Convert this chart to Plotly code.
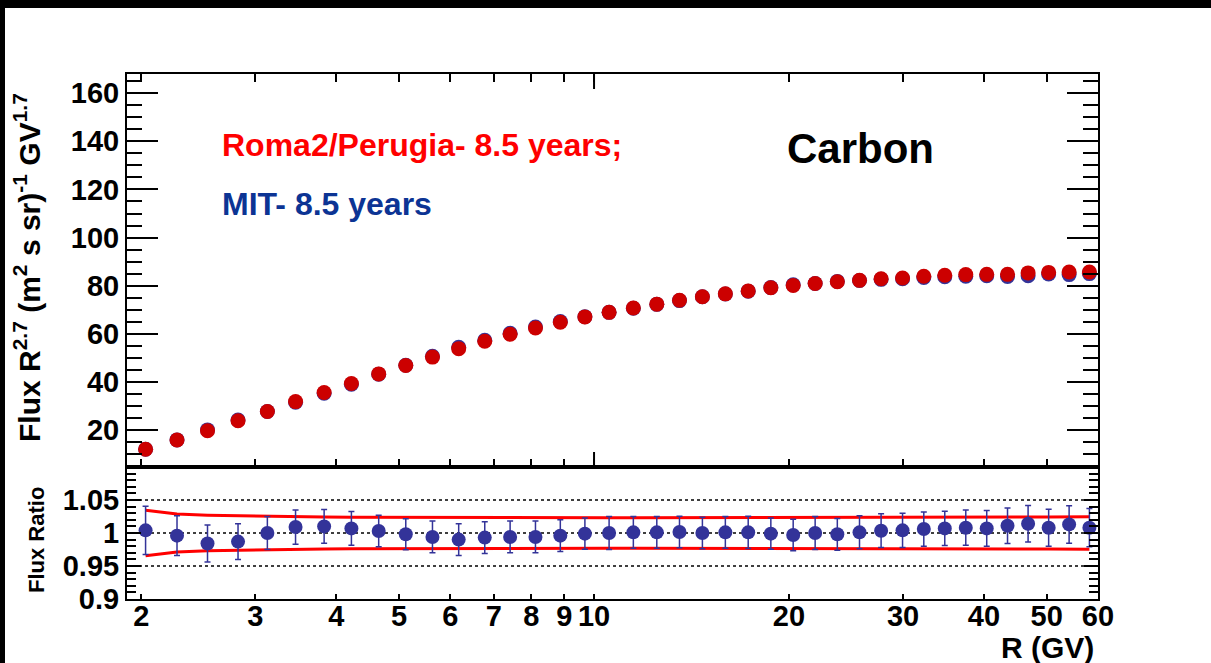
import plotly.graph_objects as go

# Rigidity bin centres (GV)
rigidity = [2.03, 2.27, 2.53, 2.82, 3.13, 3.46, 3.83, 4.22, 4.65, 5.12,
            5.63, 6.18, 6.78, 7.42, 8.12, 8.87, 9.68, 10.55, 11.5, 12.5,
            13.55, 14.7, 15.95, 17.3, 18.75, 20.3, 21.95, 23.75, 25.7, 27.75,
            29.95, 32.3, 34.8, 37.5, 40.4, 43.5, 46.8, 50.35, 54.15, 58.2]

# Carbon flux x R^2.7, Roma2/Perugia analysis
flux_roma = [12.0, 15.8, 19.7, 23.8, 27.7, 31.8, 35.6, 39.3, 43.3, 46.8,
             50.3, 53.8, 56.9, 59.8, 62.4, 64.8, 67.0, 68.9, 70.7, 72.3,
             73.9, 75.4, 76.6, 77.8, 79.1, 80.1, 80.9, 81.6, 82.2, 82.9,
             83.2, 83.9, 84.3, 84.6, 84.7, 84.7, 85.3, 85.5, 85.7, 85.7]

# Carbon flux x R^2.7, MIT analysis
flux_mit = [11.95, 15.86, 20.02, 24.11, 27.7, 31.52, 35.25, 39.03, 43.17, 46.89,
            50.60, 54.34, 57.30, 60.16, 62.78, 65.06, 67.07, 68.9, 70.63, 72.23,
            73.79, 75.4, 76.52, 77.72, 79.18, 80.34, 80.9, 81.76, 82.12, 82.61,
            82.87, 83.40, 83.71, 83.93, 84.11, 83.78, 84.12, 84.82, 84.60, 85.02]

# Flux ratio and its uncertainty
ratio = [1.004, 0.996, 0.984, 0.987, 1.000, 1.009, 1.010, 1.007, 1.003, 0.998,
         0.994, 0.990, 0.993, 0.994, 0.994, 0.996, 0.999, 1.000, 1.001, 1.001,
         1.0015, 1.000, 1.001, 1.001, 0.999, 0.997, 1.000, 0.998, 1.001, 1.0035,
         1.004, 1.006, 1.007, 1.008, 1.007, 1.011, 1.014, 1.008, 1.013, 1.008]
ratio_err = [0.0365, 0.030, 0.028, 0.027, 0.025, 0.026, 0.0255, 0.0255, 0.024, 0.0235,
             0.024, 0.024, 0.024, 0.024, 0.024, 0.024, 0.0237, 0.025, 0.024, 0.024,
             0.024, 0.024, 0.024, 0.0245, 0.0237, 0.024, 0.025, 0.024, 0.025, 0.0255,
             0.026, 0.026, 0.026, 0.0267, 0.027, 0.027, 0.0277, 0.028, 0.0284, 0.029]

# Systematic band (upper / lower edges)
band_upper = [1.0345, 1.0287, 1.027, 1.026, 1.0252, 1.0246, 1.0242, 1.024, 1.0238, 1.0236,
              1.0235, 1.0234, 1.0233, 1.0232, 1.0232, 1.0232, 1.0232, 1.0232, 1.0232, 1.0232,
              1.0232, 1.0232, 1.0233, 1.0233, 1.0233, 1.0234, 1.0234, 1.0235, 1.0235, 1.0236,
              1.0237, 1.0238, 1.0239, 1.024, 1.0241, 1.0242, 1.0243, 1.0244, 1.0244, 1.0245]
band_lower = [0.9655, 0.9713, 0.973, 0.974, 0.9748, 0.9754, 0.9758, 0.976, 0.9762, 0.9764,
              0.9765, 0.9766, 0.9767, 0.9768, 0.9768, 0.9768, 0.9768, 0.9768, 0.9768, 0.9768,
              0.9768, 0.9768, 0.9767, 0.9767, 0.9767, 0.9766, 0.9766, 0.9765, 0.9765, 0.9764,
              0.9763, 0.9762, 0.9761, 0.976, 0.9759, 0.9758, 0.9757, 0.9756, 0.9756, 0.9755]

x_tickvals = [2, 3, 4, 5, 6, 7, 8, 9, 10, 20, 30, 40, 50, 60]
x_ticktext = ["2", "3", "4", "5", "6", "7", "8", "9", "10", "20", "30", "40", "50", "60"]
x_decade = [10]
flux_tickvals = [20, 40, 60, 80, 100, 120, 140, 160]
ratio_tickvals = [0.9, 0.95, 1.0, 1.05]
ratio_ticktext = ["0.9", "0.95", "1", "1.05"]
ratio_refs = [0.95, 1.0, 1.05]

FONT = "Liberation Sans, Arial, Helvetica, sans-serif"
BLUE = "#333399"
RED = "#cc0000"

W, H = 1211, 663
L, R, T, B = 127, 113, 74, 64
PW, PH = W - L - R, H - T - B
split = 132 / PH  # lower panel height fraction
top_h = PH - 132

fig = go.Figure()

fig.add_trace(go.Scatter(x=rigidity, y=flux_mit, mode="markers",
                         marker=dict(color=BLUE, size=15, line=dict(width=0)),
                         xaxis="x", yaxis="y", name="MIT"))
fig.add_trace(go.Scatter(x=rigidity, y=flux_roma, mode="markers",
                         marker=dict(color=RED, size=15, line=dict(width=0)),
                         xaxis="x", yaxis="y", name="Roma2/Perugia"))

fig.add_trace(go.Scatter(x=rigidity, y=band_upper, mode="lines",
                         line=dict(color="#ff0000", width=3),
                         xaxis="x2", yaxis="y2"))
fig.add_trace(go.Scatter(x=rigidity, y=band_lower, mode="lines",
                         line=dict(color="#ff0000", width=3),
                         xaxis="x2", yaxis="y2"))
fig.add_trace(go.Scatter(x=rigidity, y=ratio, mode="markers",
                         marker=dict(color=BLUE, size=14, line=dict(width=0)),
                         error_y=dict(type="data", array=ratio_err, color=BLUE,
                                      thickness=1.5, width=3),
                         xaxis="x2", yaxis="y2"))

for yv in ratio_refs:
    fig.add_shape(type="line", xref="x2 domain", yref="y2", x0=0, x1=1, y0=yv, y1=yv,
                  line=dict(color="black", width=1.5, dash="dot"), layer="below")

# longer decade tick on the upper panel's bottom and top edges
for xv in x_decade:
    fig.add_shape(type="line", xref="x", yref="y domain", x0=xv, x1=xv,
                  y0=0, y1=15 / top_h, line=dict(color="black", width=2))
    fig.add_shape(type="line", xref="x", yref="y domain", x0=xv, x1=xv,
                  y0=1 - 15 / top_h, y1=1, line=dict(color="black", width=2))

ytickfont = dict(family=FONT, size=29, color="black", weight="bold")
xtickfont = dict(family=FONT, size=29, color="black", weight="bold")
axis_common = dict(showline=True, linecolor="black", linewidth=2, showgrid=False,
                   zeroline=False, ticks="inside", tickcolor="black", tickwidth=2)

xrange = [0.2788, 1.7782]
fig.update_layout(
    width=W, height=H,
    margin=dict(l=L, r=R, t=T, b=B),
    paper_bgcolor="white", plot_bgcolor="white",
    showlegend=False,
    xaxis=dict(type="log", range=xrange, domain=[0, 1], anchor="y",
               tickvals=x_tickvals, showticklabels=False, ticklen=8,
               mirror="ticks", **axis_common),
    yaxis=dict(range=[4.6, 168], domain=[split, 1], anchor="x",
               tickvals=flux_tickvals, ticklen=31, mirror="ticks", tickfont=ytickfont,
               minor=dict(dtick=5, tick0=0, ticklen=15, ticks="inside",
                          tickcolor="black", tickwidth=2),
               **axis_common),
    xaxis2=dict(type="log", range=xrange, domain=[0, 1], anchor="y2",
                tickvals=x_tickvals, ticktext=x_ticktext, ticklen=5,
                ticklabelstandoff=-10,
                mirror=True, tickfont=xtickfont, **axis_common),
    yaxis2=dict(range=[0.9, 1.1], domain=[0, split], anchor="x2",
                tickvals=ratio_tickvals, ticktext=ratio_ticktext, ticklen=14,
                mirror="ticks", tickfont=ytickfont,
                minor=dict(dtick=0.01, tick0=0.9, ticklen=9, ticks="inside",
                           tickcolor="black", tickwidth=2),
                **axis_common),
)

def px_x(px):
    return (px - L) / PW

def px_y(py):
    return (H - B - py) / PH

annotations = [
    dict(text="Roma2/Perugia- 8.5 years;", x=px_x(220), y=px_y(145), xanchor="left",
         yanchor="middle", font=dict(family=FONT, size=32, color="#ff0000", weight="bold")),
    dict(text="MIT- 8.5 years", x=px_x(220), y=px_y(204), xanchor="left",
         yanchor="middle", font=dict(family=FONT, size=32, color="#0c3494", weight="bold")),
    dict(text="Carbon", x=px_x(860), y=px_y(148), xanchor="center",
         yanchor="middle", font=dict(family=FONT, size=42, color="black", weight="bold")),
    dict(text="Flux R<sup>2.7</sup> (m<sup>2</sup> s sr)<sup>-1</sup> GV<sup>1.7</sup>",
         x=px_x(27), y=px_y(268), xanchor="center", yanchor="middle", textangle=-90,
         font=dict(family=FONT, size=30, color="black", weight="bold")),
    dict(text="Flux Ratio", x=px_x(36), y=px_y(540), xanchor="center", yanchor="middle",
         textangle=-90, font=dict(family=FONT, size=22, color="black", weight="bold")),
    dict(text="R (GV)", x=px_x(1096), y=px_y(647), xanchor="right", yanchor="middle",
         font=dict(family=FONT, size=30, color="black", weight="bold")),
]
for a in annotations:
    a.update(xref="paper", yref="paper", showarrow=False)
fig.update_layout(annotations=annotations)

# dark frame strips along the top and left edges of the canvas
fig.add_shape(type="rect", xref="paper", yref="paper", x0=px_x(0), x1=px_x(W),
              y0=px_y(8), y1=px_y(0), fillcolor="black", line=dict(width=0), layer="above")
fig.add_shape(type="rect", xref="paper", yref="paper", x0=px_x(0), x1=px_x(5),
              y0=px_y(H), y1=px_y(0), fillcolor="black", line=dict(width=0), layer="above")

fig.write_html("out.html")
